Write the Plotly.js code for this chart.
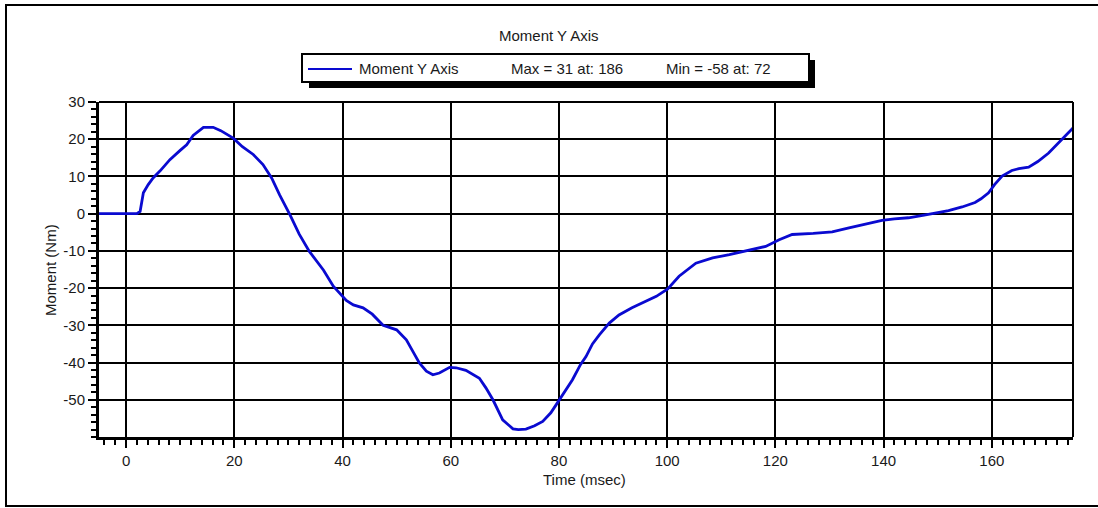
<!DOCTYPE html>
<html>
<head>
<meta charset="utf-8">
<script src="https://cdn.plot.ly/plotly-3.0.1.min.js"></script>
<style>html,body{margin:0;padding:0;background:#fff;}#chart{width:1098px;height:508px;}</style>
</head>
<body>
<div id="chart"></div>
<script>
// Data
const timeMs = [-5, 2, 2.6, 3.2, 4.1, 5, 6.3, 8.1, 10, 11.2, 12.4, 14.3, 16.1, 17.5, 19.8, 21.5, 23.5, 25.3, 26.9, 28.4,
  30.3, 32, 33.9, 35.2, 36.5, 38.3, 40.7, 42, 43.8, 45.5, 47.5, 50, 51.8, 53, 54.2, 55.5, 56.7, 57.9, 59.8, 61,
  62.8, 65.3, 66.5, 67.8, 69.6, 71.5, 72.5, 73.9, 75.5, 77, 78.5, 79.5, 81, 82.5, 84, 85, 86.2, 87.5, 89.3, 91.1,
  93.5, 96.1, 98, 100.1, 102.2, 105.3, 108.4, 111.5, 114.5, 118.2, 120.7, 123.1, 127, 130.5, 133.6, 136, 139.7, 142, 144.6, 147.5,
  150.2, 152, 154.5, 156.9, 158, 159.4, 160.5, 161.9, 163.7, 165, 166.8, 168.5, 170.5, 172.9, 175];
const momentNm = [0, 0, 0.6, 5.6, 7.8, 9.6, 11.5, 14.5, 17, 18.5, 21, 23.2, 23.2, 22.3, 20.3, 18, 15.9, 13.2, 9.6, 5,
  -0.3, -5.5, -10.2, -12.6, -15.2, -19.5, -23.3, -24.5, -25.3, -27, -30, -31.2, -33.9, -37, -40.1, -42.3, -43.3, -42.8, -41.3, -41.4,
  -42.1, -44.2, -46.8, -50, -55.4, -57.8, -58, -57.9, -57, -55.8, -53.5, -51.3, -48, -44.6, -40.5, -38.4, -35, -32.5, -29.4, -27.2,
  -25.3, -23.5, -22.2, -20.2, -16.8, -13.3, -11.9, -11, -10.1, -8.8, -7, -5.6, -5.3, -4.9, -3.8, -3, -1.8, -1.4, -1.1, -0.4,
  0.3, 0.8, 1.8, 3, 4, 5.6, 7.8, 10.1, 11.6, 12.1, 12.5, 14, 16.3, 19.9, 23];
const xTicks = [0, 20, 40, 60, 80, 100, 120, 140, 160];
const yTicks = [-50, -40, -30, -20, -10, 0, 10, 20, 30];
const chartTitle = "Moment Y Axis";
const seriesName = "Moment Y Axis";
const maxText = "Max = 31 at: 186";
const minText = "Min = -58 at: 72";
const xTitle = "Time (msec)";
const yTitle = "Moment (Nm)";

// layout geometry (pixels)
const L = 99, R = 1073, T = 102, B = 437;
const W = 1098, H = 508;
const px = v => (v - L) / (R - L);
const py = v => (B - v) / (B - T);

const font = {family: "Liberation Sans, Arial, sans-serif", size: 15, color: "#1a1a1a"};
const lineColor = "#0a0ad0";

const trace = {
  x: timeMs, y: momentNm, type: "scatter", mode: "lines", name: seriesName,
  line: {color: lineColor, width: 2.8}, cliponaxis: true
};

const axisCommon = {
  showgrid: true, gridcolor: "#000", gridwidth: 2,
  zeroline: false, showline: true, linecolor: "#000", linewidth: 3,
  ticks: "outside", ticklen: 8, tickwidth: 2, tickcolor: "#000",
  tickfont: font, fixedrange: true
};

const layout = {
  width: W, height: H,
  margin: {l: L, r: W - R, t: T, b: H - B, pad: 0},
  paper_bgcolor: "#fff", plot_bgcolor: "#fff",
  showlegend: false,
  font: font,
  xaxis: Object.assign({}, axisCommon, {
    range: [-5, 175], tickmode: "array", tickvals: xTicks, ticktext: xTicks.map(String),
    minor: {dtick: 2, tick0: 0, ticks: "outside", ticklen: 5, tickwidth: 2, tickcolor: "#000", showgrid: false}
  }),
  yaxis: Object.assign({}, axisCommon, {
    range: [-60, 30], tickmode: "array", tickvals: yTicks, ticktext: yTicks.map(String),
    minor: {dtick: 2, tick0: 0, ticks: "outside", ticklen: 5, tickwidth: 2, tickcolor: "#000", showgrid: false}
  }),
  shapes: [
    // outer frame (right edge falls outside the picture)
    {type: "rect", xref: "paper", yref: "paper", x0: px(6), x1: px(1100), y0: py(506), y1: py(5),
      line: {color: "#000", width: 2}, fillcolor: "rgba(0,0,0,0)", layer: "below"},
    // top and right plot border
    {type: "line", xref: "paper", yref: "paper", x0: 0, x1: 1, y0: 1, y1: 1, line: {color: "#000", width: 2}},
    {type: "line", xref: "paper", yref: "paper", x0: 1, x1: 1, y0: 0, y1: 1, line: {color: "#000", width: 2}},
    // legend shadow
    {type: "rect", xref: "paper", yref: "paper", x0: px(309), x1: px(815), y0: py(88), y1: py(60),
      line: {width: 0}, fillcolor: "#000"},
    // legend box
    {type: "rect", xref: "paper", yref: "paper", x0: px(302), x1: px(809), y0: py(82), y1: py(54),
      line: {color: "#000", width: 2}, fillcolor: "#fff"},
    // legend sample line
    {type: "line", xref: "paper", yref: "paper", x0: px(308), x1: px(352), y0: py(69), y1: py(69),
      line: {color: lineColor, width: 2.2}}
  ],
  annotations: [
    {text: chartTitle, xref: "paper", yref: "paper", x: px(549), y: py(35), xanchor: "center", yanchor: "middle", showarrow: false, font: font},
    {text: seriesName, xref: "paper", yref: "paper", x: px(357), y: py(68), xanchor: "left", yanchor: "middle", showarrow: false, font: font},
    {text: maxText, xref: "paper", yref: "paper", x: px(509), y: py(68), xanchor: "left", yanchor: "middle", showarrow: false, font: font},
    {text: minText, xref: "paper", yref: "paper", x: px(664), y: py(68), xanchor: "left", yanchor: "middle", showarrow: false, font: font},
    {text: xTitle, xref: "paper", yref: "paper", x: px(584), y: py(480), xanchor: "center", yanchor: "middle", showarrow: false, font: font},
    {text: yTitle, xref: "paper", yref: "paper", x: px(50), y: py(270), xanchor: "center", yanchor: "middle", textangle: -90, showarrow: false, font: font}
  ]
};

Plotly.newPlot("chart", [trace], layout, {staticPlot: true, displayModeBar: false});
</script>
</body>
</html>
